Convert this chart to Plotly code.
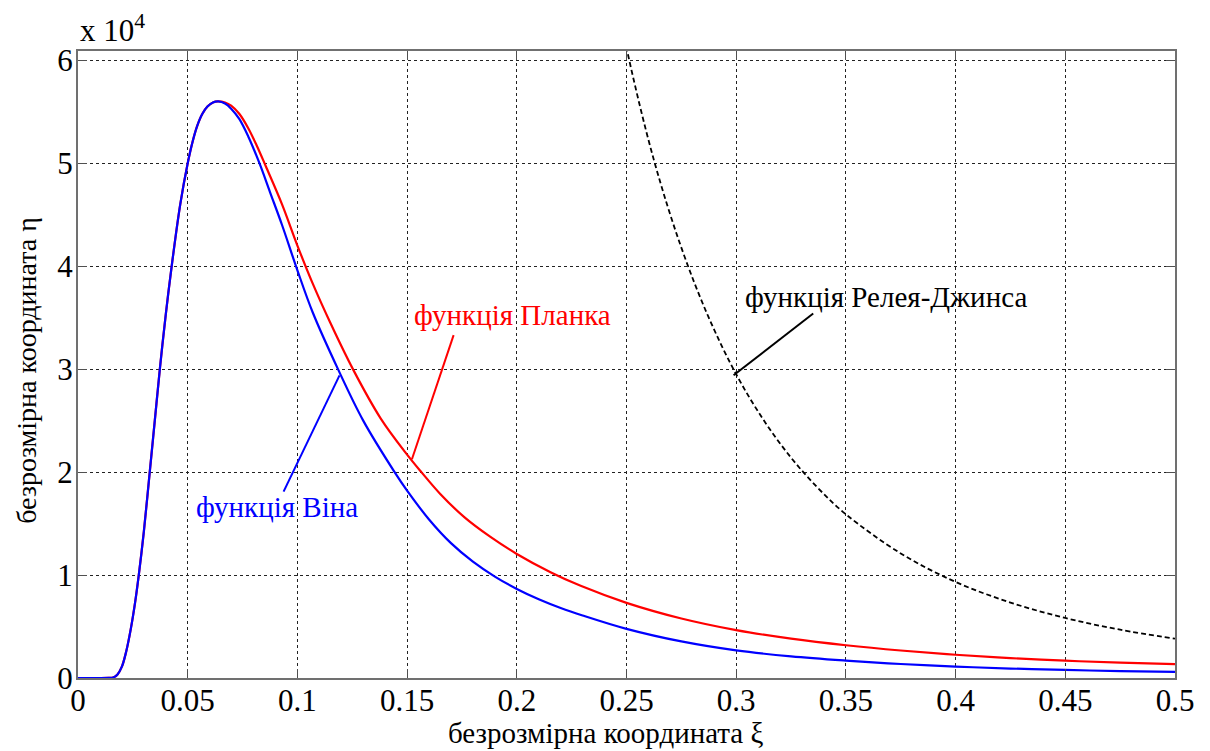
import plotly.graph_objects as go

# ---- data, eta in units of 1e4 ----
wien_xi = [0, 0.008, 0.014, 0.016, 0.018, 0.020, 0.022, 0.024, 0.026, 0.0277, 0.030, 0.0327, 0.035,
           0.0373, 0.040, 0.0427, 0.0466, 0.050, 0.052, 0.0543, 0.0567, 0.059, 0.0615, 0.0639, 0.067,
           0.0698, 0.0735, 0.0776, 0.0827, 0.0875, 0.093, 0.100, 0.107, 0.1185, 0.130, 0.1443, 0.150,
           0.160, 0.170, 0.180, 0.190, 0.200, 0.210, 0.220, 0.230, 0.250, 0.275, 0.300, 0.325, 0.350,
           0.375, 0.400, 0.425, 0.450, 0.475, 0.500]
wien_eta = [0, 0, 0.001, 0.005, 0.035, 0.11, 0.26, 0.47, 0.73, 1.0, 1.42, 2.0, 2.5,
            3.0, 3.53, 4.0, 4.60, 5.0, 5.19, 5.36, 5.48, 5.55, 5.59, 5.60, 5.58,
            5.53, 5.43, 5.26, 5.0, 4.72, 4.40, 3.96, 3.55, 3.0, 2.50, 2.0, 1.82,
            1.54, 1.31, 1.13, 0.985, 0.865, 0.765, 0.68, 0.607, 0.477, 0.355, 0.268, 0.21, 0.169,
            0.136, 0.111, 0.092, 0.078, 0.067, 0.059]

planck_xi = [0, 0.008, 0.014, 0.016, 0.018, 0.020, 0.022, 0.024, 0.026, 0.0277, 0.030, 0.0327, 0.035,
             0.0373, 0.040, 0.0427, 0.0466, 0.050, 0.052, 0.0543, 0.0567, 0.059, 0.0615, 0.0639, 0.067,
             0.0698, 0.0735, 0.0776, 0.0815, 0.0856, 0.093, 0.100, 0.107, 0.115, 0.1253, 0.138, 0.150,
             0.1565, 0.165, 0.1762, 0.188, 0.200, 0.2156, 0.2291, 0.250, 0.275, 0.300, 0.325, 0.350,
             0.375, 0.400, 0.425, 0.450, 0.475, 0.500]
planck_eta = [0, 0, 0.001, 0.005, 0.035, 0.11, 0.26, 0.47, 0.73, 1.0, 1.42, 2.0, 2.5,
              3.0, 3.53, 4.0, 4.60, 5.0, 5.19, 5.36, 5.48, 5.55, 5.59, 5.60, 5.59,
              5.56, 5.48, 5.34, 5.17, 4.97, 4.60, 4.20, 3.83, 3.45, 3.0, 2.52, 2.17,
              2.0, 1.79, 1.56, 1.37, 1.205, 1.025, 0.895, 0.73, 0.578, 0.465, 0.382, 0.318,
              0.267, 0.226, 0.193, 0.168, 0.150, 0.135]

rj_xi = [0.240, 0.250, 0.2625, 0.275, 0.2875, 0.300, 0.3125, 0.325, 0.3375, 0.350, 0.375, 0.400,
         0.425, 0.450, 0.475, 0.500]
rj_eta = [7.2, 6.12, 5.03, 4.18, 3.50, 2.95, 2.505, 2.14, 1.84, 1.59, 1.21, 0.933,
          0.733, 0.583, 0.469, 0.382]

x_ticks = [0, 0.05, 0.1, 0.15, 0.2, 0.25, 0.3, 0.35, 0.4, 0.45, 0.5]
x_tick_text = ["0", "0.05", "0.1", "0.15", "0.2", "0.25", "0.3", "0.35", "0.4", "0.45", "0.5"]
y_ticks = [0, 1, 2, 3, 4, 5, 6]
y_tick_text = ["0", "1", "2", "3", "4", "5", "6"]

# labels: (text, colour, x, y, callout tip x, tip y, callout tail x, tail y)
labels = [
    ("функція Віна", "#0000FF", 0.0906, 1.66, 0.1192, 2.94, 0.0937, 1.81),
    ("функція Планка", "#FF0000", 0.1982, 3.53, 0.1522, 2.125, 0.1712, 3.33),
    ("функція Релея-Джинса", "#000000", 0.3682, 3.70, 0.2988, 2.94, 0.3351, 3.54),
]

SCALE = 1e4
FONT = "Liberation Serif"

fig = go.Figure()
fig.add_trace(go.Scatter(x=rj_xi, y=[v * SCALE for v in rj_eta], mode="lines",
                         line=dict(color="black", width=1.8, dash="5px,3px", shape="spline", smoothing=1.0),
                         showlegend=False))
fig.add_trace(go.Scatter(x=planck_xi, y=[v * SCALE for v in planck_eta], mode="lines",
                         line=dict(color="#FF0000", width=2.2, shape="spline", smoothing=1.0),
                         showlegend=False))
fig.add_trace(go.Scatter(x=wien_xi, y=[v * SCALE for v in wien_eta], mode="lines",
                         line=dict(color="#0000FF", width=2.2, shape="spline", smoothing=1.0),
                         showlegend=False))

for text, col, tx, ty, px, py, qx, qy in labels:
    fig.add_shape(type="line", x0=px, y0=py * SCALE, x1=qx, y1=qy * SCALE,
                  line=dict(color=col, width=2), layer="above")
    fig.add_annotation(x=tx, y=ty * SCALE, text=text, showarrow=False,
                       xanchor="center", yanchor="middle",
                       font=dict(family=FONT, size=29, color=col))

axis_common = dict(showline=True, linecolor="#707070", linewidth=2, mirror="ticks",
                   ticks="inside", ticklen=9, tickcolor="#505050", tickwidth=1,
                   showgrid=True, gridcolor="#222222", gridwidth=1, griddash="3px,3px",
                   zeroline=False, tickfont=dict(family=FONT, size=31, color="black"))

fig.update_xaxes(range=[0, 0.5], tickvals=x_ticks, ticktext=x_tick_text,
                 ticklabelstandoff=-6, **axis_common)
fig.update_yaxes(range=[0, 6.09 * SCALE], tickvals=[v * SCALE for v in y_ticks],
                 ticktext=y_tick_text, ticklabelstandoff=-3, **axis_common)

fig.add_annotation(xref="paper", yref="paper", x=0.481, y=0, yshift=-55, xanchor="center", yanchor="middle",
                   text="безрозмірна координата ξ",
                   showarrow=False, font=dict(family=FONT, size=29, color="black"))
fig.add_annotation(xref="paper", yref="paper", x=0, y=0.49, xshift=-51, xanchor="center", yanchor="middle",
                   text="безрозмірна координата η",
                   textangle=-90, showarrow=False, font=dict(family=FONT, size=28, color="black"))
fig.add_annotation(xref="paper", yref="paper", x=0, y=1, xanchor="left", yanchor="bottom", yshift=1,
                   text="x 10<sup>4</sup>", showarrow=False,
                   font=dict(family=FONT, size=31, color="black"))

# the page body adds an 8 px offset, so the figure is sized and placed to compensate
fig.update_layout(width=1202, height=743, plot_bgcolor="white", paper_bgcolor="white",
                  margin=dict(l=70, r=35, t=43, b=73), showlegend=False)

fig.write_html("out.html")
